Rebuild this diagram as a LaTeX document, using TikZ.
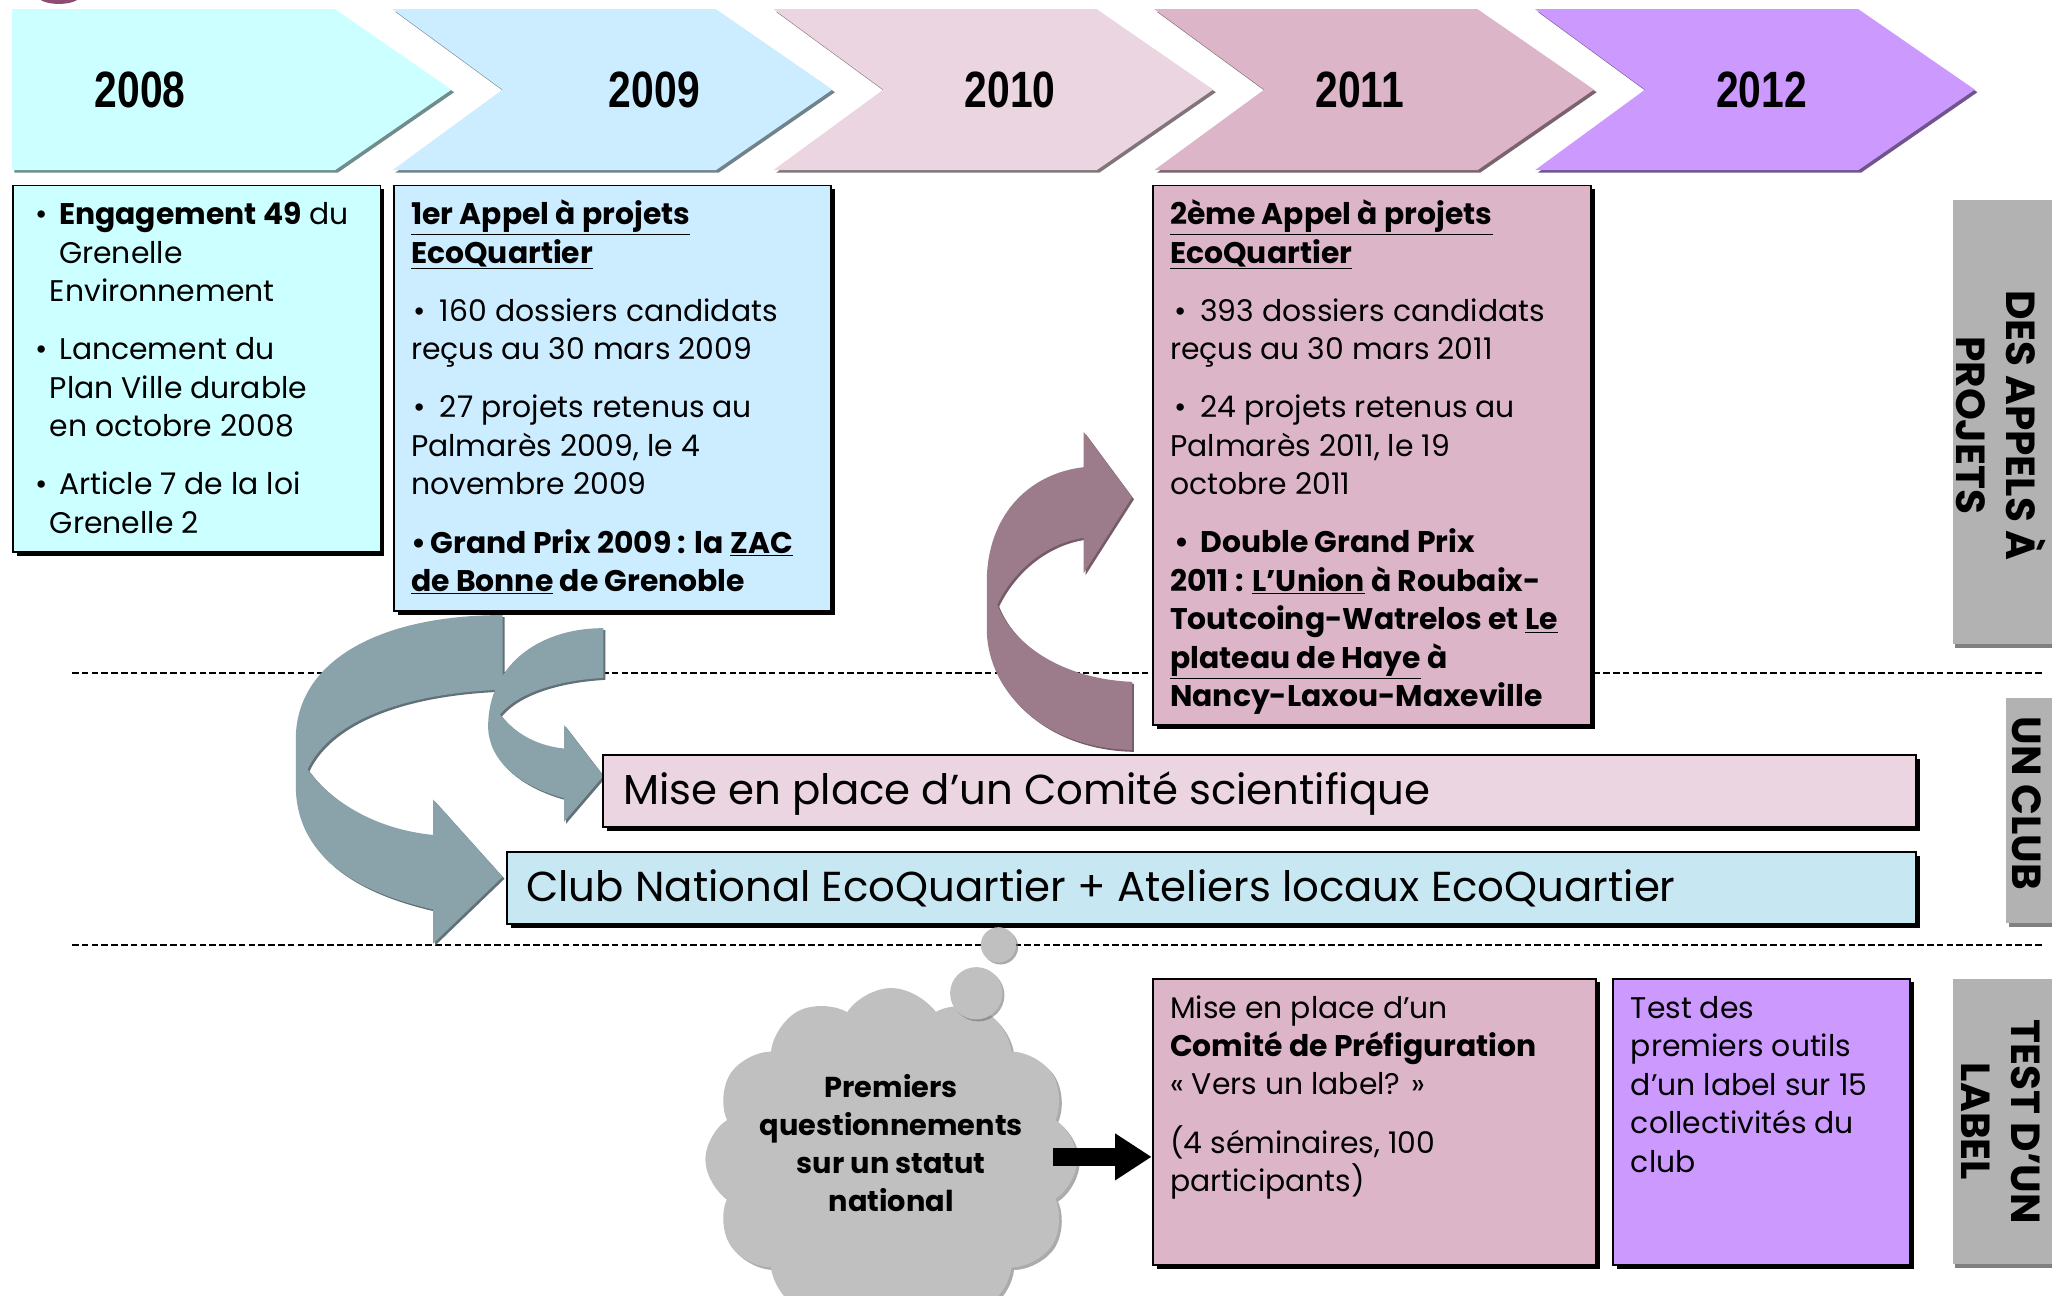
\documentclass[tikz,border=0pt]{standalone}
\usepackage{fontspec}
\setmainfont{Poppins}
\newfontfamily\yearfont[FakeStretch=0.8]{Liberation Sans}
\usetikzlibrary{shapes.symbols,shadows,arrows.meta}
\definecolor{c08}{HTML}{CCFFFF}
\definecolor{c09}{HTML}{CCECFF}
\definecolor{c10}{HTML}{EAD5E0}
\definecolor{c11}{HTML}{DDB5C8}
\definecolor{c12}{HTML}{CC99FF}
\definecolor{cbar2}{HTML}{C7E7F3}
\definecolor{cgray}{HTML}{B2B2B2}
\definecolor{ccloud}{HTML}{C0C0C0}
\definecolor{carrow}{HTML}{8AA2AA}
\definecolor{cmauve}{HTML}{9C7B8A}
\definecolor{csmudge}{HTML}{7B2D5A}
\newcommand\bul[1]{\makebox[#1][l]{•}}
\tikzset{
  box/.style={draw=black, line width=1.5pt, anchor=north west, inner sep=0pt,
    drop shadow={shadow xshift=3pt, shadow yshift=-3pt, opacity=1, fill=black}},
  graybox/.style={fill=cgray, anchor=north west, inner sep=0pt,
    drop shadow={shadow xshift=2pt, shadow yshift=-3pt, opacity=1, fill=black!50}},
  txt/.style={anchor=base west, align=left, inner sep=0pt,
    font=\fontsize{22.8}{29.4}\selectfont},
  bartxt/.style={anchor=base west, inner sep=0pt, font=\fontsize{32}{36}\selectfont},
  yearlbl/.style={inner sep=0pt, font=\yearfont\bfseries\fontsize{39}{40}\selectfont},
  sidetxt/.style={rotate=-90, align=center, inner sep=0pt,
    font=\bfseries\fontsize{31}{38}\selectfont},
  dashline/.style={draw=black, line width=1.3pt, dash pattern=on 5pt off 2.5pt},
}
\begin{document}
\begin{tikzpicture}[x=1pt,y=-1pt]
\useasboundingbox (0,0) rectangle (1568,990);
\clip (0,0) rectangle (1568,990);
\fill[white] (0,0) rectangle (1568,990);
% smudge at top left
\fill[csmudge, opacity=0.85] (45,-3) ellipse [x radius=16, y radius=6];

% chevrons
\foreach \k/\col/\nd in {0/c08/0,1/c09/84,2/c10/84,3/c11/84,4/c12/84}{
  \pgfmathsetmacro\xo{9+291*\k}
  \begin{scope}[shift={(2,2)}]
    \fill[\col!55!black] (\xo,7) -- (\xo+247,7) -- (\xo+336,68.5) -- (\xo+247,130) -- (\xo,130) -- (\xo+\nd,68.5) -- cycle;
  \end{scope}
  \fill[\col] (\xo,7) -- (\xo+247,7) -- (\xo+336,68.5) -- (\xo+247,130) -- (\xo,130) -- (\xo+\nd,68.5) -- cycle;
}
\node[yearlbl] (y08) at (107,69) {2008};
\node[yearlbl] (y09) at (500,69) {2009};
\node[yearlbl] (y10) at (772,69) {2010};
\node[yearlbl] (y11) at (1039,69) {2011};
\node[yearlbl] (y12) at (1346,69) {2012};

% dashed separators
\coordinate (d1a) at (55,514); \coordinate (d1b) at (1562,514);
\coordinate (d2a) at (55,722); \coordinate (d2b) at (1562,722);
\draw[dashline] (d1a) -- (d1b);
\draw[dashline] (d2a) -- (d2b);

% side labels
\node[graybox, minimum width=90pt, minimum height=339pt] (g1) at (1492,153) {};
\node[sidetxt] (g1t) at (1529,325) {DES APPELS À\\PROJETS};
\node[graybox, minimum width=50pt, minimum height=172pt] (g2) at (1533,533) {};
\node[sidetxt] (g2t) at (1549,614) {UN CLUB};
\node[graybox, minimum width=90pt, minimum height=218pt] (g3) at (1492,748) {};
\node[sidetxt] (g3t) at (1529,857) {TEST D’UN\\LABEL};

% top boxes
\node[box, fill=c08, minimum width=281pt, minimum height=280pt] (bA) at (9,141) {};
\node[txt] (tA) at (27,407.5) {\bul{18pt}\textbf{Engagement 49} du\\
\hspace*{18pt}Grenelle\\
\hspace*{11pt}Environnement\\[15pt]
\bul{18pt}Lancement du\\
\hspace*{11pt}Plan Ville durable\\
\hspace*{11pt}en octobre 2008\\[15pt]
\bul{18pt}Article 7 de la loi\\
\hspace*{11pt}Grenelle 2};

\node[box, fill=c09, minimum width=334pt, minimum height=325pt] (bB) at (300,141) {};
\node[txt] (tB) at (314,452) {\underline{\textbf{1er Appel à projets}}\\
\underline{\textbf{EcoQuartier}}\\[15pt]
\hspace*{2pt}\bul{20pt}160 dossiers candidats\\
reçus au 30 mars 2009\\[15pt]
\hspace*{2pt}\bul{20pt}27 projets retenus au\\
Palmarès 2009, le 4\\
novembre 2009\\[15pt]
\textbf{\bul{15pt}Grand Prix 2009 : la \underline{ZAC}}\\
\textbf{\underline{de Bonne} de Grenoble}};

\node[box, fill=c11, minimum width=335pt, minimum height=412pt] (bC) at (880,141) {};
\node[txt] (tC) at (894,540) {\underline{\textbf{2ème Appel à projets}}\\
\underline{\textbf{EcoQuartier}}\\[15pt]
\hspace*{3pt}\bul{20pt}393 dossiers candidats\\
reçus au 30 mars 2011\\[15pt]
\hspace*{3pt}\bul{20pt}24 projets retenus au\\
Palmarès 2011, le 19\\
octobre 2011\\[15pt]
\textbf{\hspace*{3pt}\bul{20pt}Double Grand Prix}\\
\textbf{2011 : \underline{L’Union} à Roubaix-}\\
\textbf{Toutcoing-Watrelos et \underline{Le}}\\
\textbf{\underline{plateau de Haye} à}\\
\textbf{Nancy-Laxou-Maxeville}};

% curved arrows
\begin{scope}[shift={(1.5,1.5)}]
\fill[carrow!70!black] (384,470) -- (384,527) .. controls (300,530) and (250,555) .. (235,588)
  .. controls (255,615) and (290,634) .. (331,638) -- (331,611) -- (384,670) -- (331,721) -- (331,695)
  .. controls (265,680) and (226,650) .. (226,600) -- (226,565) .. controls (226,505) and (290,470) .. cycle;
\end{scope}
\fill[carrow] (384,470) -- (384,527) .. controls (300,530) and (250,555) .. (235,588)
  .. controls (255,615) and (290,634) .. (331,638) -- (331,611) -- (384,670) -- (331,721) -- (331,695)
  .. controls (265,680) and (226,650) .. (226,600) -- (226,565) .. controls (226,505) and (290,470) .. cycle;
\begin{scope}[shift={(1.5,1.5)}]
\fill[carrow!70!black] (461,480) -- (461,518) .. controls (425,520) and (395,530) .. (382,546)
  .. controls (395,562) and (412,570) .. (431,572) -- (431,554) -- (461,593) -- (431,628) -- (431,610)
  .. controls (395,600) and (373,580) .. (373,555) .. controls (373,510) and (410,480) .. cycle;
\end{scope}
\fill[carrow] (461,480) -- (461,518) .. controls (425,520) and (395,530) .. (382,546)
  .. controls (395,562) and (412,570) .. (431,572) -- (431,554) -- (461,593) -- (431,628) -- (431,610)
  .. controls (395,600) and (373,580) .. (373,555) .. controls (373,510) and (410,480) .. cycle;
\begin{scope}[shift={(1.5,1.5)}]
\fill[cmauve!75!black] (865,521) -- (865,573) .. controls (800,572) and (754,530) .. (754,480)
  -- (754,445) .. controls (754,395) and (785,362) .. (828,357) -- (828,330) -- (865,380) -- (828,438)
  -- (828,411) .. controls (800,415) and (775,435) .. (762,462) .. controls (775,495) and (815,519) .. cycle;
\end{scope}
\fill[cmauve] (865,521) -- (865,573) .. controls (800,572) and (754,530) .. (754,480)
  -- (754,445) .. controls (754,395) and (785,362) .. (828,357) -- (828,330) -- (865,380) -- (828,438)
  -- (828,411) .. controls (800,415) and (775,435) .. (762,462) .. controls (775,495) and (815,519) .. cycle;

% bars
\node[box, fill=c10, minimum width=1003pt, minimum height=55pt] (bar1) at (460,576) {};
\node[bartxt] (bar1t) at (476,615) {Mise en place d’un Comité scientifique};
\node[box, fill=cbar2, minimum width=1076pt, minimum height=55pt] (bar2) at (387,650) {};
\node[bartxt] (bar2t) at (402,689) {Club National EcoQuartier + Ateliers locaux EcoQuartier};

% bottom boxes
\node[box, fill=c11, minimum width=339pt, minimum height=219pt] (bD) at (880,747) {};
\node[txt] (tD) at (894,910.5) {Mise en place d’un\\
\textbf{Comité de Préfiguration}\\
« Vers un label? »\\[15pt]
(4 séminaires, 100\\
participants)};
\node[box, fill=c12, minimum width=227pt, minimum height=219pt] (bE) at (1232,747) {};
\node[txt] (tE) at (1246,895.6) {Test des\\
premiers outils\\
d’un label sur 15\\
collectivités du\\
club};

% cloud
\node[cloud, cloud puffs=12, cloud puff arc=115, cloud ignores aspect, fill=ccloud,
  minimum width=284pt, minimum height=262pt,
  drop shadow={shadow xshift=2pt, shadow yshift=-2pt, opacity=0.6, fill=black!55}] (cloud) at (681,886) {};
\node[circle, fill=ccloud, minimum size=40pt, inner sep=0pt,
  drop shadow={shadow xshift=1.5pt, shadow yshift=-1.5pt, opacity=0.6, fill=black!55}] (bub2) at (746,759) {};
\node[circle, fill=ccloud, minimum size=27pt, inner sep=0pt,
  drop shadow={shadow xshift=1.5pt, shadow yshift=-1.5pt, opacity=0.6, fill=black!55}] (bub1) at (763,722) {};
\node[anchor=base, align=center, inner sep=0pt, font=\bfseries\fontsize{22}{29}\selectfont] (cloudt) at (681,926)
  {Premiers\\questionnements\\sur un statut\\national};

% black arrow
\coordinate (arrS) at (805,884);
\draw[line width=14pt, -{Triangle[length=28pt,width=34pt]}] (arrS) -- (bD.west |- arrS);
\end{tikzpicture}
\end{document}
